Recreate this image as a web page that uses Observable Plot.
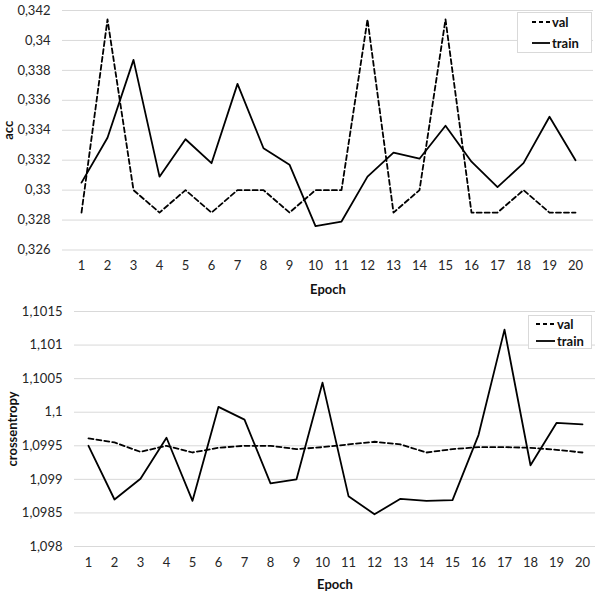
<!DOCTYPE html>
<html>
<head>
<meta charset="utf-8">
<script src="https://cdn.jsdelivr.net/npm/d3@7"></script>
<script src="https://cdn.jsdelivr.net/npm/@observablehq/plot@0.6"></script>
<style>
  body { margin: 0; background: white; }
  #wrap { position: relative; width: 600px; height: 596px; font-family: Lato, "Open Sans", sans-serif; }
  #wrap svg { display: block; }
  .legend { position: absolute; }
</style>
</head>
<body>
<div id="wrap"></div>
<script>
// ---- data ----
const epochs = [1,2,3,4,5,6,7,8,9,10,11,12,13,14,15,16,17,18,19,20];

const accVal   = [0.3285,0.3414,0.3300,0.3285,0.3300,0.3285,0.3300,0.3300,0.3285,0.3300,
                  0.3300,0.3414,0.3285,0.3300,0.3414,0.3285,0.3285,0.3300,0.3285,0.3285];
const accTrain = [0.3305,0.3335,0.3387,0.3309,0.3334,0.3318,0.3371,0.3328,0.3317,0.3276,
                  0.3279,0.3309,0.3325,0.3321,0.3343,0.3319,0.3302,0.3318,0.3349,0.3320];

const ceVal    = [1.09961,1.09955,1.09941,1.09950,1.09940,1.09947,1.09950,1.09950,1.09945,1.09948,
                  1.09952,1.09956,1.09952,1.09940,1.09945,1.09948,1.09948,1.09947,1.09944,1.09940];
const ceTrain  = [1.09950,1.09870,1.09901,1.09962,1.09868,1.10008,1.09989,1.09894,1.09900,1.10044,
                  1.09875,1.09848,1.09871,1.09868,1.09869,1.09966,1.10123,1.09921,1.09984,1.09982];

const accTicks  = [0.326,0.328,0.330,0.332,0.334,0.336,0.338,0.340,0.342];
const accLabels = ["0,326","0,328","0,33","0,332","0,334","0,336","0,338","0,34","0,342"];
const ceTicks   = [1.098,1.0985,1.099,1.0995,1.100,1.1005,1.101,1.1015];
const ceLabels  = ["1,098","1,0985","1,099","1,0995","1,1","1,1005","1,101","1,1015"];

const seriesNames = ["val","train"];

// ---- chart builder ----
function chart({val, train, ticks, labels, yTitle, height, ml, mr, mt, mb, titleDx, xLabelDy}) {
  const rows = epochs.flatMap((e, i) => [
    {epoch: e, value: val[i], series: "val"},
    {epoch: e, value: train[i], series: "train"}
  ]);
  return Plot.plot({
    width: 600, height,
    marginLeft: ml, marginRight: mr, marginTop: mt, marginBottom: mb,
    style: {fontFamily: "Lato, 'Open Sans', sans-serif", fontSize: "13px", color: "#262626", background: "white", overflow: "visible"},
    x: {type: "point", domain: epochs, padding: 0.5, tickSize: 0, tickPadding: 11, label: null},
    y: {domain: [ticks[0], ticks[ticks.length - 1]], ticks, tickSize: 0, tickPadding: 12,
        tickFormat: d => labels[ticks.indexOf(d)], label: null},
    marks: [
      Plot.ruleY(ticks, {stroke: "#d9d9d9", strokeWidth: 1}),
      Plot.line(rows.filter(d => d.series === "val"), {x: "epoch", y: "value", stroke: "black", strokeWidth: 1.8, strokeDasharray: "5,3"}),
      Plot.line(rows.filter(d => d.series === "train"), {x: "epoch", y: "value", stroke: "black", strokeWidth: 1.8}),
      Plot.text([yTitle], {frameAnchor: "left", dx: titleDx, rotate: -90, textAnchor: "middle", lineAnchor: "middle", fontWeight: "bold", fontSize: 13, fill: "#111"}),
      Plot.text(["Epoch"], {frameAnchor: "bottom", dy: xLabelDy, textAnchor: "middle", lineAnchor: "middle", fontWeight: "bold", fontSize: 13, fill: "#111"})
    ]
  });
}

function legend({left, top, w, h, lineX1, lineX2, textX, rowY}) {
  const svg = d3.create("svg").attr("class", "legend").attr("width", w).attr("height", h)
    .style("left", left + "px").style("top", top + "px");
  svg.append("rect").attr("x", 0.5).attr("y", 0.5).attr("width", w - 1).attr("height", h - 1)
    .attr("fill", "white").attr("stroke", "#d9d9d9");
  seriesNames.forEach((name, i) => {
    svg.append("line").attr("x1", lineX1).attr("x2", lineX2).attr("y1", rowY[i]).attr("y2", rowY[i])
      .attr("stroke", "black").attr("stroke-width", 1.8)
      .attr("stroke-dasharray", name === "val" ? "4,3" : null);
    svg.append("text").attr("x", textX).attr("y", rowY[i]).attr("dy", "0.35em")
      .attr("font-family", "Lato, 'Open Sans', sans-serif").attr("font-size", 13)
      .attr("font-weight", "bold").attr("fill", "#111").text(name);
  });
  return svg.node();
}

const wrap = document.getElementById("wrap");

wrap.append(chart({
  val: accVal, train: accTrain, ticks: accTicks, labels: accLabels, yTitle: "acc",
  height: 300, ml: 62, mr: 7, mt: 10, mb: 50.5, titleDx: -54, xLabelDy: 40
}));
wrap.append(chart({
  val: ceVal, train: ceTrain, ticks: ceTicks, labels: ceLabels, yTitle: "crossentropy",
  height: 296, ml: 74, mr: 5, mt: 11, mb: 50, titleDx: -62, xLabelDy: 38
}));

wrap.append(legend({left: 517, top: 12, w: 75, h: 41, lineX1: 15, lineX2: 33, textX: 35, rowY: [10, 31]}));
wrap.append(legend({left: 528, top: 315, w: 64, h: 34, lineX1: 8, lineX2: 27, textX: 29, rowY: [9, 26]}));
</script>
</body>
</html>
